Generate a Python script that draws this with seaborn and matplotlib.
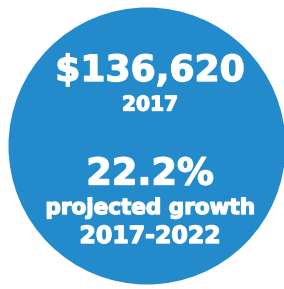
import matplotlib
matplotlib.use("Agg")
import matplotlib.pyplot as plt
import matplotlib.patheffects as pe
import seaborn as sns
from matplotlib.patches import Circle

# Data
headline_value = "$136,620"
headline_year = "2017"
growth_value = "22.2%"
growth_label = "projected growth"
growth_period = "2017-2022"

sns.set_theme(style="white")
plt.rcParams['font.family'] = ['DejaVu Sans']

W, H = 284, 289
fig = plt.figure(figsize=(W / 100, H / 100), dpi=100)
ax = fig.add_axes([0, 0, 1, 1])
ax.set_xlim(0, W)
ax.set_ylim(H, 0)
ax.axis("off")

blue = "#238BCB"
ax.add_patch(Circle((147, 146), 138.5, color=blue, lw=0))

stroke = [pe.withStroke(linewidth=1.0, foreground="white")]
cx = 150
ax.text(cx, 71, headline_value, ha="center", va="center", color="white",
        fontsize=26, fontweight="bold", path_effects=stroke)
ax.text(cx, 105, headline_year, ha="center", va="center", color="white",
        fontsize=14.5, fontweight="bold", path_effects=stroke)
ax.text(cx, 174, growth_value, ha="center", va="center", color="white",
        fontsize=26.5, fontweight="bold", path_effects=stroke)
ax.text(cx, 208, growth_label, ha="center", va="center", color="white",
        fontsize=15.5, fontweight="bold", path_effects=stroke)
ax.text(cx, 236, growth_period, ha="center", va="center", color="white",
        fontsize=17, fontweight="bold", path_effects=stroke)

fig.savefig("out.png", dpi=100)
